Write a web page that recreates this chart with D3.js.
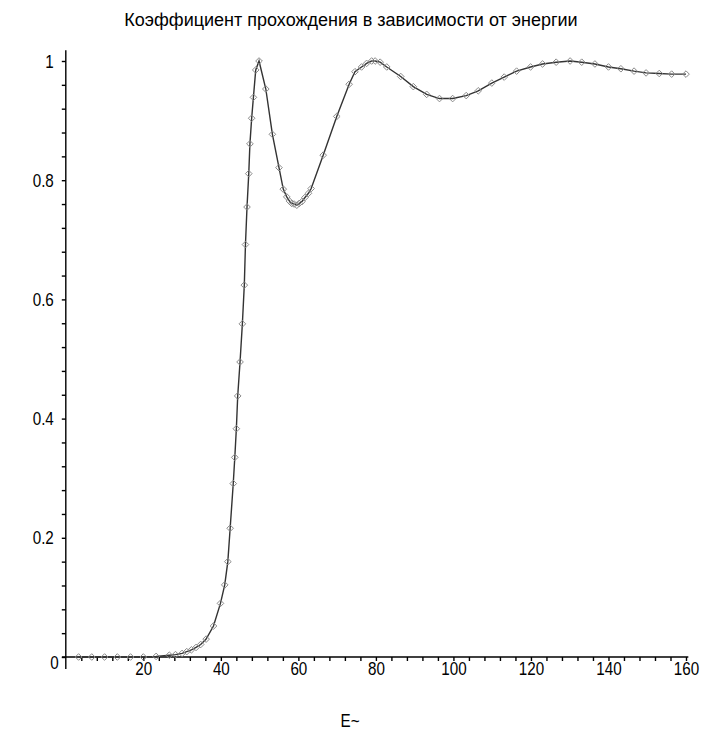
<!DOCTYPE html>
<html>
<head>
<meta charset="utf-8">
<script src="https://cdn.jsdelivr.net/npm/d3@7/dist/d3.min.js"></script>
<style>
  html, body { margin: 0; padding: 0; background: #fff; }
  svg { display: block; }
  text { fill: #000; font-family: "Liberation Sans", Arial, sans-serif; }
</style>
</head>
<body>
<svg id="chart" width="702" height="733"></svg>
<script>
const titleText = "Коэффициент прохождения в зависимости от энергии";
const xLabel = "E~";

const energy = [3.3, 6.7, 10, 13.3, 16.7, 20, 23.3, 26.7, 28.3, 30, 31.2, 32.4, 33.6, 34.8, 36.2, 38.1, 39.9,
  41.0, 41.8, 42.4, 43.2, 43.6, 44.0, 44.35, 44.95, 45.55, 46.05, 46.35, 46.75, 47.2, 47.5, 47.95, 48.4, 49.0, 49.85,
  51.6, 53.3, 55.0, 56.1, 57.0, 57.7, 58.3, 58.9, 59.6, 60.2, 60.9, 61.7, 62.6, 63.3, 66.4, 69.9, 73.1, 74.6, 76.3,
  77.6, 78.9, 79.8, 81.1, 82.8, 86.4, 89.65, 93.1, 96.4, 99.8, 103.3, 106.4, 109.9, 113.1, 116.3, 119.9, 123.0,
  126.5, 130.1, 133.1, 136.5, 140.0, 143.2, 146.6, 149.7, 153.1, 156.3, 160];
const transmission = [0, 0, 0, 0, 0, 0, 0.001, 0.003, 0.004, 0.006, 0.009, 0.012, 0.016, 0.021, 0.030, 0.052, 0.090,
  0.121, 0.160, 0.216, 0.291, 0.335, 0.383, 0.438, 0.495, 0.559, 0.624, 0.692, 0.755, 0.811, 0.861, 0.904, 0.939, 0.985, 1.0,
  0.953, 0.877, 0.821, 0.785, 0.772, 0.765, 0.761, 0.760, 0.758, 0.761, 0.764, 0.771, 0.778, 0.786, 0.842, 0.907, 0.961, 0.982, 0.990,
  0.996, 1.0, 1.0, 0.998, 0.990, 0.974, 0.957, 0.944, 0.937, 0.937, 0.942, 0.950, 0.963, 0.973, 0.983, 0.990, 0.995,
  0.998, 1.0, 0.998, 0.995, 0.990, 0.987, 0.983, 0.980, 0.979, 0.978, 0.978];

const xTickLabels = [20, 40, 60, 80, 100, 120, 140, 160];
const yTickLabels = [0, 0.2, 0.4, 0.6, 0.8, 1];

const data = energy.map((e, i) => ({ e, t: transmission[i] }));

const svg = d3.select("#chart");
const x = d3.scaleLinear().domain([0, 160]).range([65.8, 686]);
const y = d3.scaleLinear().domain([0, 1]).range([657, 61]);

// condensed look (like Arial Narrow) while keeping real text
function narrow(sel) {
  sel.each(function () {
    const w = this.getComputedTextLength();
    if (w > 0) {
      d3.select(this)
        .attr("textLength", (w * 0.8).toFixed(2))
        .attr("lengthAdjust", "spacingAndGlyphs");
    }
  });
}

// title
svg.append("text")
  .attr("x", 351).attr("y", 26)
  .attr("text-anchor", "middle")
  .style("font-size", "18px")
  .text(titleText);

// x axis
const xTicks = d3.range(4, 160.001, 4);
const xAxis = d3.axisBottom(x)
  .tickValues(xTicks)
  .tickSize(4).tickSizeOuter(0).tickPadding(1)
  .tickFormat(d => xTickLabels.includes(Math.round(d)) ? String(Math.round(d)) : "");
const gx = svg.append("g").attr("transform", `translate(0,${y(0)})`).call(xAxis);
gx.select(".domain").remove();
gx.selectAll("line").attr("stroke", "#000").attr("stroke-width", 1.4);
gx.selectAll("text").style("font-size", "19px").style("font-family", null).attr("fill", "#000").call(narrow);
svg.append("line")
  .attr("x1", x(-1)).attr("x2", x(160.6))
  .attr("y1", y(0)).attr("y2", y(0))
  .attr("stroke", "#000").attr("stroke-width", 1.4);

// y axis
const yTicks = d3.range(0, 25.5, 1).map(k => k * 0.04);
const yAxis = d3.axisLeft(y)
  .tickValues(yTicks)
  .tickSize(4).tickSizeOuter(0).tickPadding(8)
  .tickFormat(d => {
    const m = yTickLabels.find(v => Math.abs(v - d) < 1e-6);
    return m === undefined ? "" : String(m);
  });
const gy = svg.append("g").attr("transform", `translate(${x(0)},0)`).call(yAxis);
gy.select(".domain").remove();
gy.selectAll("line").attr("stroke", "#000").attr("stroke-width", 1.4);
gy.selectAll("text").style("font-size", "19px").attr("fill", "#000").call(narrow);
gy.selectAll(".tick").filter(d => Math.abs(d) < 1e-6).select("text")
  .attr("x", -7).attr("dy", "0.62em");
svg.append("line")
  .attr("x1", x(0)).attr("x2", x(0))
  .attr("y1", y(-0.02)).attr("y2", y(1.018))
  .attr("stroke", "#000").attr("stroke-width", 1.4);

// curve
const line = d3.line().x(d => x(d.e)).y(d => y(d.t));
svg.append("path")
  .datum(data)
  .attr("d", line)
  .attr("fill", "none")
  .attr("stroke", "#333")
  .attr("stroke-width", 1.4);

// diamond markers
const diamond = d3.symbol().type(d3.symbolDiamond2).size(28);
svg.append("g").selectAll("path")
  .data(data)
  .join("path")
  .attr("transform", d => `translate(${x(d.e)},${y(d.t)})`)
  .attr("d", diamond)
  .attr("fill", "none")
  .attr("stroke", "#8a8a8a")
  .attr("stroke-width", 1);

// x label
svg.append("text")
  .attr("x", 350).attr("y", 727)
  .attr("text-anchor", "middle")
  .style("font-size", "19px")
  .text(xLabel)
  .call(narrow);
</script>
</body>
</html>
